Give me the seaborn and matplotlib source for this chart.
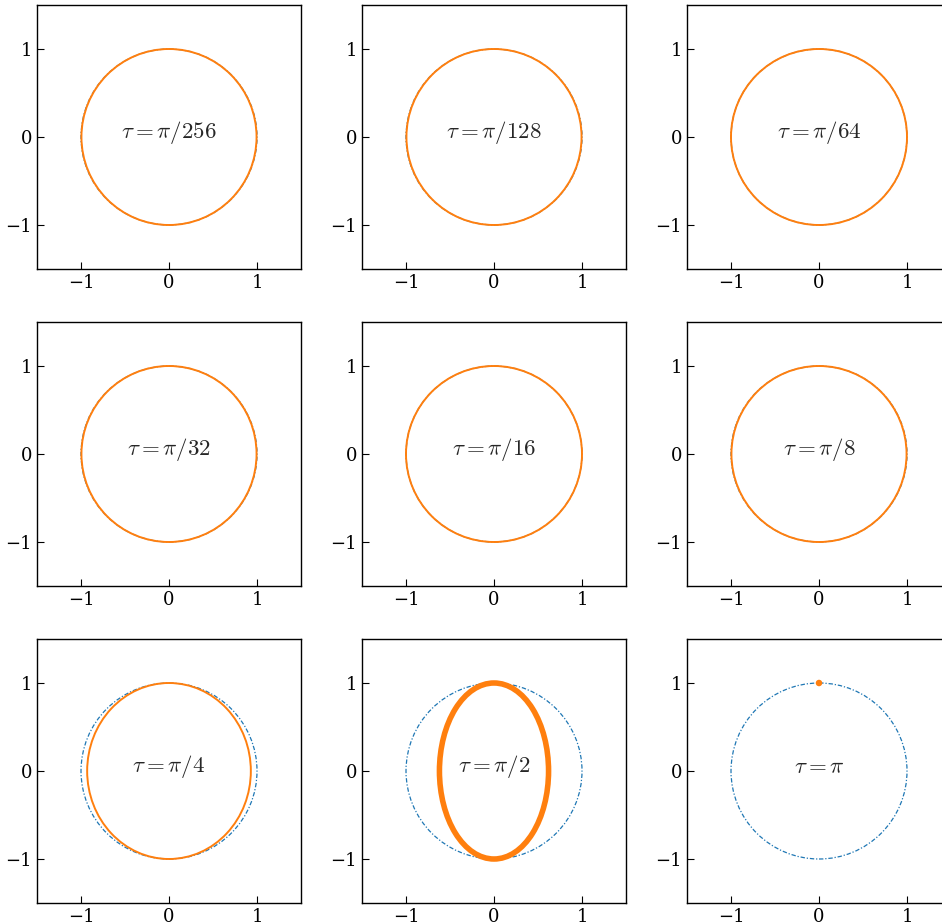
import matplotlib
matplotlib.use("Agg")
import matplotlib.pyplot as plt
from matplotlib.patches import Ellipse
import seaborn as sns

# step sizes shown in each panel (row by row)
tau_labels = [r"$\tau = \pi/256$", r"$\tau = \pi/128$", r"$\tau = \pi/64$",
              r"$\tau = \pi/32$", r"$\tau = \pi/16$", r"$\tau = \pi/8$",
              r"$\tau = \pi/4$", r"$\tau = \pi/2$", r"$\tau = \pi$"]

# exact orbit: unit circle
exact_rx = [1.0] * 9
exact_ry = [1.0] * 9

# numerical orbit semi-axes (None = no closed orbit)
num_rx = [0.995, 0.995, 1.0, 0.995, 1.0, 0.995, 0.93, 0.62, None]
num_ry = [1.0, 1.0, 1.0, 1.0, 1.0, 1.0, 1.0, 1.0, None]

# the tau = pi run stays on a single point
point_x = [0.0]
point_y = [1.0]

sns.set_style("ticks")
plt.rcParams["font.family"] = ["DejaVu Serif"]
plt.rcParams["mathtext.fontset"] = "cm"

fig = plt.figure(figsize=(9.42, 9.23), dpi=100)
W, H = 942, 923
lefts = [37, 362, 687]
tops = [5, 322, 639]
size = 264

blue = "#1f77b4"
orange = "#ff7f0e"

for i, label in enumerate(tau_labels):
    r, c = divmod(i, 3)
    ax = fig.add_axes([lefts[c] / W, 1 - (tops[r] + size) / H, size / W, size / H])

    ax.add_patch(Ellipse((0, 0), 2 * exact_rx[i], 2 * exact_ry[i], fill=False,
                         edgecolor=blue, linestyle=(0, (3.5, 1.5, 1, 1.5)),
                         linewidth=0.9, zorder=2))
    if num_rx[i] is not None:
        lw = 4.0 if i == 7 else 1.4
        ax.add_patch(Ellipse((0, 0), 2 * num_rx[i], 2 * num_ry[i], fill=False,
                             edgecolor=orange, linewidth=lw, zorder=3))
    else:
        sns.scatterplot(x=point_x, y=point_y, ax=ax, color=orange, s=22,
                        edgecolor="none", zorder=3)

    ax.text(0, 0.05, label, ha="center", va="center", fontsize=16.5)

    ax.set_xlim(-1.5, 1.5)
    ax.set_ylim(-1.5, 1.5)
    ax.set_xticks([-1, 0, 1])
    ax.set_yticks([-1, 0, 1])
    ax.tick_params(direction="in", length=5, width=0.8, labelsize=13,
                   colors="black")
    for s in ax.spines.values():
        s.set_visible(True)
        s.set_color("black")
        s.set_linewidth(1.0)

fig.savefig("out.png", dpi=100)
